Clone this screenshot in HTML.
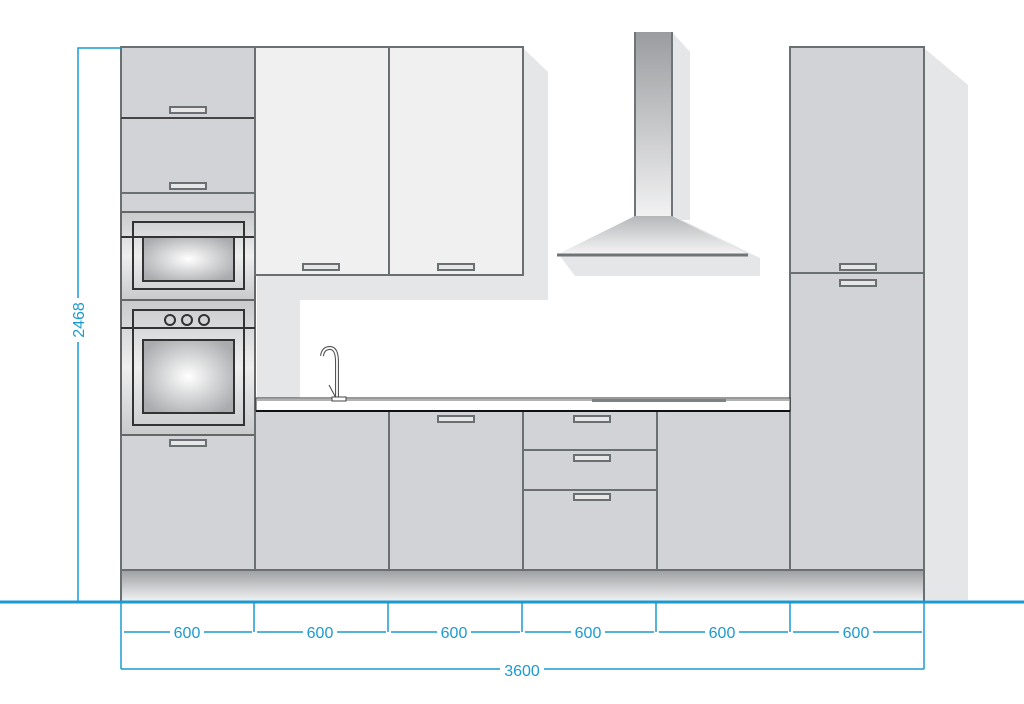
<!DOCTYPE html>
<html><head><meta charset="utf-8"><style>
html,body{margin:0;padding:0;background:#fff;width:1024px;height:704px;overflow:hidden}
svg{display:block}
text{font-family:"Liberation Sans",sans-serif;fill:#1a9ad0;font-size:16px}
</style></head><body>
<svg width="1024" height="704" viewBox="0 0 1024 704" xmlns="http://www.w3.org/2000/svg">
<defs>
<radialGradient id="win" cx="0.5" cy="0.5" r="0.6">
<stop offset="0" stop-color="#ffffff"/><stop offset="1" stop-color="#a9abae"/></radialGradient>
<linearGradient id="plinth" x1="0" y1="0" x2="0" y2="1">
<stop offset="0" stop-color="#9c9ea1"/><stop offset="1" stop-color="#f4f4f5"/></linearGradient>
<linearGradient id="chim" x1="0" y1="0" x2="0" y2="1">
<stop offset="0" stop-color="#9a9c9f"/><stop offset="1" stop-color="#f2f2f3"/></linearGradient>
<linearGradient id="hood" x1="0" y1="0" x2="0" y2="1">
<stop offset="0" stop-color="#b5b7ba"/><stop offset="1" stop-color="#f4f4f5"/></linearGradient>
<linearGradient id="ovenv" x1="0" y1="0" x2="0" y2="1">
<stop offset="0" stop-color="#c8cacc"/><stop offset="0.5" stop-color="#eeeeef"/><stop offset="1" stop-color="#c8cacc"/></linearGradient>
</defs>
<polygon points="523,48 548,72 548,300 300,300 300,398 257,398 257,275 523,275" fill="#e5e6e8"/>
<polygon points="924,48 968,85 968,600 924,600" fill="#e5e6e8"/>
<polygon points="672,32 690,52 690,220 672,220" fill="#e5e6e8"/>
<polygon points="672,215 760,258 760,276 575,276 560,256 740,256" fill="#e5e6e8"/>

<g stroke="#6a6f71" stroke-width="2">
<rect x="121" y="47" width="134" height="523" fill="#d2d3d6"/>
<line x1="121" y1="118" x2="255" y2="118" stroke="#444"/>
<line x1="121" y1="193" x2="255" y2="193"/>
<rect x="121" y="212" width="134" height="88" fill="url(#ovenv)" stroke="#666"/>
<rect x="133" y="222" width="111" height="67" fill="none" stroke="#333"/>
<line x1="121" y1="237" x2="255" y2="237" stroke="#333"/>
<rect x="143" y="237" width="91" height="44" fill="url(#win)" stroke="#333"/>
<rect x="121" y="300" width="134" height="135" fill="url(#ovenv)" stroke="#666"/>
<rect x="133" y="310" width="111" height="115" fill="none" stroke="#333"/>
<line x1="121" y1="328" x2="255" y2="328" stroke="#333"/>
<circle cx="170" cy="320" r="5" fill="none" stroke="#333"/>
<circle cx="187" cy="320" r="5" fill="none" stroke="#333"/>
<circle cx="204" cy="320" r="5" fill="none" stroke="#333"/>
<rect x="143" y="340" width="91" height="73" fill="url(#win)" stroke="#333"/>
<rect x="255" y="47" width="134" height="228" fill="#f0f0f1"/>
<rect x="389" y="47" width="134" height="228" fill="#f0f0f1"/>
<rect x="790" y="47" width="134" height="523" fill="#d2d3d6"/>
<line x1="790" y1="273" x2="924" y2="273"/>
<rect x="255" y="411" width="134" height="159" fill="#d2d3d6"/>
<rect x="389" y="411" width="134" height="159" fill="#d2d3d6"/>
<rect x="523" y="411" width="134" height="159" fill="#d2d3d6"/>
<line x1="523" y1="450" x2="657" y2="450"/>
<line x1="523" y1="490" x2="657" y2="490"/>
<rect x="657" y="411" width="133" height="159" fill="#d2d3d6"/>
<rect x="121" y="570" width="803" height="32" fill="url(#plinth)"/>
<g fill="#e6e6e7" stroke-width="2">
<rect x="170" y="107" width="36" height="6"/>
<rect x="170" y="183" width="36" height="6"/>
<rect x="170" y="440" width="36" height="6"/>
<rect x="303" y="264" width="36" height="6"/>
<rect x="438" y="264" width="36" height="6"/>
<rect x="438" y="416" width="36" height="6"/>
<rect x="574" y="416" width="36" height="6"/>
<rect x="574" y="455" width="36" height="6"/>
<rect x="574" y="494" width="36" height="6"/>
<rect x="840" y="264" width="36" height="6"/>
<rect x="840" y="280" width="36" height="6"/>
</g>
</g>
<rect x="256" y="398" width="534" height="13" fill="#fff" stroke="#333" stroke-width="1"/>
<line x1="256" y1="400" x2="790" y2="400" stroke="#999" stroke-width="1.5"/>
<line x1="256" y1="411" x2="790" y2="411" stroke="#111" stroke-width="2"/>
<rect x="592" y="399" width="134" height="3" fill="#7d8285"/>
<path d="M337,399 V362 Q337,348 330,348 Q323,348 322,356" fill="none" stroke="#555" stroke-width="4"/>
<path d="M337,399 V362 Q337,348 330,348 Q323,348 322,356" fill="none" stroke="#fff" stroke-width="1.8"/>
<line x1="329" y1="385" x2="336" y2="398" stroke="#444" stroke-width="1"/>
<rect x="332" y="397" width="14" height="4" fill="#fff" stroke="#444" stroke-width="1"/>
<rect x="635" y="32" width="37" height="185" fill="url(#chim)"/>
<line x1="635" y1="32" x2="635" y2="217" stroke="#6f7476" stroke-width="2"/>
<line x1="672" y1="32" x2="672" y2="217" stroke="#6f7476" stroke-width="2"/>
<polygon points="635,216 672,216 747,254 558,254" fill="url(#hood)"/>
<line x1="557" y1="255" x2="748" y2="255" stroke="#6f7476" stroke-width="3"/>
<g stroke="#1a9ad0" stroke-width="1.5" fill="none">
<line x1="0" y1="602" x2="1024" y2="602" stroke-width="3"/>
<polyline points="121,48 78,48 78,602"/>
<line x1="121" y1="602" x2="121" y2="669"/>
<line x1="924" y1="602" x2="924" y2="669"/>
<line x1="254" y1="602" x2="254" y2="632"/>
<line x1="388" y1="602" x2="388" y2="632"/>
<line x1="522" y1="602" x2="522" y2="632"/>
<line x1="656" y1="602" x2="656" y2="632"/>
<line x1="790" y1="602" x2="790" y2="632"/>
<path d="M124,632H170M204,632H252M257,632H303M337,632H386M391,632H437M471,632H520M525,632H571M605,632H654M659,632H705M739,632H788M793,632H839M873,632H922"/>
<path d="M121,669H500M544,669H924"/>
</g>
<rect x="70" y="298" width="16" height="44" fill="#fff"/>
<g text-anchor="middle">
<text x="187" y="638">600</text><text x="320" y="638">600</text><text x="454" y="638">600</text>
<text x="588" y="638">600</text><text x="722" y="638">600</text><text x="856" y="638">600</text>
<text x="522" y="676">3600</text>
<text transform="translate(84,320) rotate(-90)">2468</text>
</g>
</svg>
</body></html>
